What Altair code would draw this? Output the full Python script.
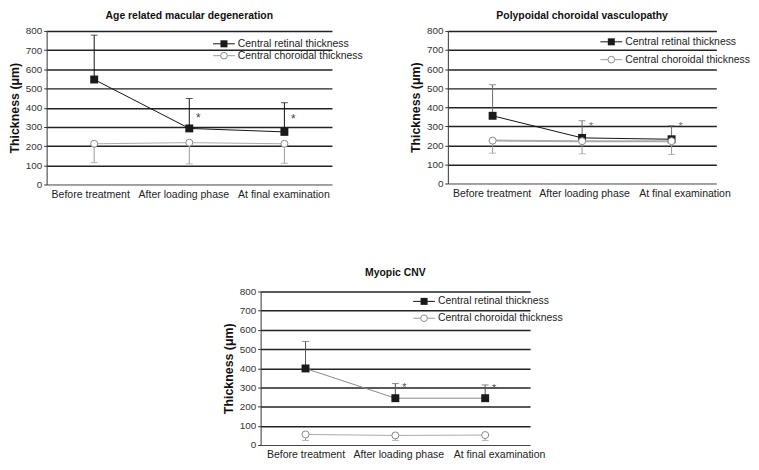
import altair as alt
import pandas as pd

FONT = "Liberation Sans"

categories = ["Before treatment", "After loading phase", "At final examination"]
legend_labels = ["Central retinal thickness", "Central choroidal thickness"]
y_ticks = [0, 100, 200, 300, 400, 500, 600, 700, 800]

# Age related macular degeneration
amd_retinal = [547, 292, 274]
amd_retinal_upper = [778, 448, 426]
amd_choroidal = [212, 218, 212]
amd_choroidal_lower = [114, 107, 110]
amd_star = [None, 352, 344]

# Polypoidal choroidal vasculopathy
pcv_retinal = [355, 239, 232]
pcv_retinal_upper = [518, 329, 303]
pcv_choroidal = [225, 222, 222]
pcv_choroidal_lower = [159, 156, 152]
pcv_star = [None, 300, 300]

# Myopic CNV
myo_retinal = [399, 244, 244]
myo_retinal_upper = [540, 320, 313]
myo_choroidal = [55, 50, 52]
myo_choroidal_lower = [24, 24, 24]
myo_star = [None, 304, 295]


def yenc(field):
    return alt.Y(
        field,
        type="quantitative",
        scale=alt.Scale(domain=[0, 800], nice=False, zero=True),
        axis=alt.Axis(
            title="Thickness (μm)",
            values=y_ticks,
            format="d",
            titleFont=FONT,
            titleFontSize=12.5,
            titleFontWeight="bold",
            titleColor="#111",
            titlePadding=4,
            labelFont=FONT,
            labelFontSize=10,
            labelColor="#333",
            labelPadding=2,
            tickSize=3,
            tickColor="#333",
            domainColor="#333",
            grid=True,
            gridColor={"condition": {"test": "datum.value === 0", "value": "transparent"}, "value": "#222"},
            gridWidth=1.5,
        ),
    )


def panel(title, ret, ret_up, cho, cho_lo, stars, w, h,
          ret_line_color, ret_err_color, star_color, star_size,
          leg_x, leg_y1, leg_y2, cho_line_width, label_shift, title_offset):
    df = pd.DataFrame({
        "cat": categories, "ret": ret, "ret_up": ret_up,
        "cho": cho, "cho_lo": cho_lo, "star": stars,
    })
    xenc = alt.X(
        "cat:N", sort=categories,
        scale=alt.Scale(type="point", padding=0.5),
        axis=alt.Axis(title=None, labelAngle=0, ticks=False, domain=True,
                      domainColor="#444", domainWidth=1,
                      labelFont=FONT, labelFontSize=10.6, labelColor="#222",
                      labelPadding=5, grid=False,
                      labelOffset={"condition": [
                          {"test": f"datum.value === '{categories[0]}'", "value": label_shift[0]},
                          {"test": f"datum.value === '{categories[1]}'", "value": label_shift[1]},
                      ], "value": label_shift[2]}),
    )
    base = alt.Chart(df).encode(x=xenc)
    layers = [
        base.mark_rule(color=ret_err_color, strokeWidth=1).encode(y=yenc("ret"), y2="ret_up"),
        base.mark_tick(color=ret_err_color, thickness=1, size=7).encode(y=yenc("ret_up")),
        base.mark_line(color=ret_line_color, strokeWidth=1).encode(y=yenc("ret")),
        base.mark_point(shape="square", filled=True, size=64, color="#1a1a1a",
                        opacity=1).encode(y=yenc("ret")),
        base.mark_rule(color="#999", strokeWidth=1).encode(y=yenc("cho_lo"), y2="cho"),
        base.mark_tick(color="#999", thickness=1, size=7).encode(y=yenc("cho_lo")),
        base.mark_line(color="#aaa", strokeWidth=cho_line_width).encode(y=yenc("cho")),
        base.mark_point(shape="circle", filled=True, size=50, fill="white",
                        stroke="#888", strokeWidth=1, opacity=1).encode(y=yenc("cho")),
        base.transform_filter("isValid(datum.star)").mark_text(
            text="*", dx=9, dy=1, fontSize=star_size, font=FONT, color=star_color
        ).encode(y=yenc("star")),
    ]
    # legend
    leg = pd.DataFrame({"label": legend_labels})
    l1 = alt.Chart(leg).transform_filter(f"datum.label == '{legend_labels[0]}'")
    l2 = alt.Chart(leg).transform_filter(f"datum.label == '{legend_labels[1]}'")
    layers += [
        l1.mark_rule(color="#111", strokeWidth=1).encode(
            x=alt.value(leg_x - 11), x2=alt.value(leg_x + 11), y=alt.value(leg_y1)),
        l1.mark_point(shape="square", filled=True, size=50, color="#1a1a1a", opacity=1).encode(
            x=alt.value(leg_x), y=alt.value(leg_y1)),
        l1.mark_text(align="left", baseline="middle", dx=0, font=FONT, fontSize=10.5,
                     color="#222").encode(x=alt.value(leg_x + 14), y=alt.value(leg_y1), text="label:N"),
        l2.mark_rule(color="#999", strokeWidth=1).encode(
            x=alt.value(leg_x - 11), x2=alt.value(leg_x + 11), y=alt.value(leg_y2)),
        l2.mark_point(shape="circle", filled=True, size=45, fill="white", stroke="#888",
                      strokeWidth=1, opacity=1).encode(x=alt.value(leg_x), y=alt.value(leg_y2)),
        l2.mark_text(align="left", baseline="middle", font=FONT, fontSize=10.5,
                     color="#222").encode(x=alt.value(leg_x + 14), y=alt.value(leg_y2), text="label:N"),
    ]
    return alt.layer(*layers).properties(
        width=w, height=h,
        title=alt.TitleParams(title, font=FONT, fontSize=10.5, fontWeight="bold",
                              color="#111", anchor="middle", frame="group", offset=title_offset),
    )


p1 = panel("Age related macular degeneration", amd_retinal, amd_retinal_upper,
           amd_choroidal, amd_choroidal_lower, amd_star, 288, 155,
           "#111", "#111", "#444", 12, 179, 13, 25, 1, [-4, -6, -1], 5)
p2 = panel("Polypoidal choroidal vasculopathy", pcv_retinal, pcv_retinal_upper,
           pcv_choroidal, pcv_choroidal_lower, pcv_star, 271, 154,
           "#111", "#666", "#777", 11, 165, 11, 29, 2, [-1, 2, 13], 5)
p3 = panel("Myopic CNV", myo_retinal, myo_retinal_upper,
           myo_choroidal, myo_choroidal_lower, myo_star, 272, 155,
           "#888", "#555", "#555", 11, 165, 10, 27, 1, [0, 3, 14], 8)

# empty spacer view that shifts the bottom panel to the right
spacer = alt.Chart(pd.DataFrame({"label": legend_labels[:1]})).mark_text(
    text="", opacity=0).encode(x=alt.value(0), y=alt.value(0)).properties(width=216, height=10)

top = alt.hconcat(p1, p2, spacing=117, bounds="flush")
bottom = alt.hconcat(spacer, p3, spacing=0, bounds="flush")
chart = alt.vconcat(top, bottom, spacing=68).properties(
    padding=0, background="white").configure_view(stroke=None)

chart.save("out.html", embed_options={"renderer": "svg", "actions": False})
